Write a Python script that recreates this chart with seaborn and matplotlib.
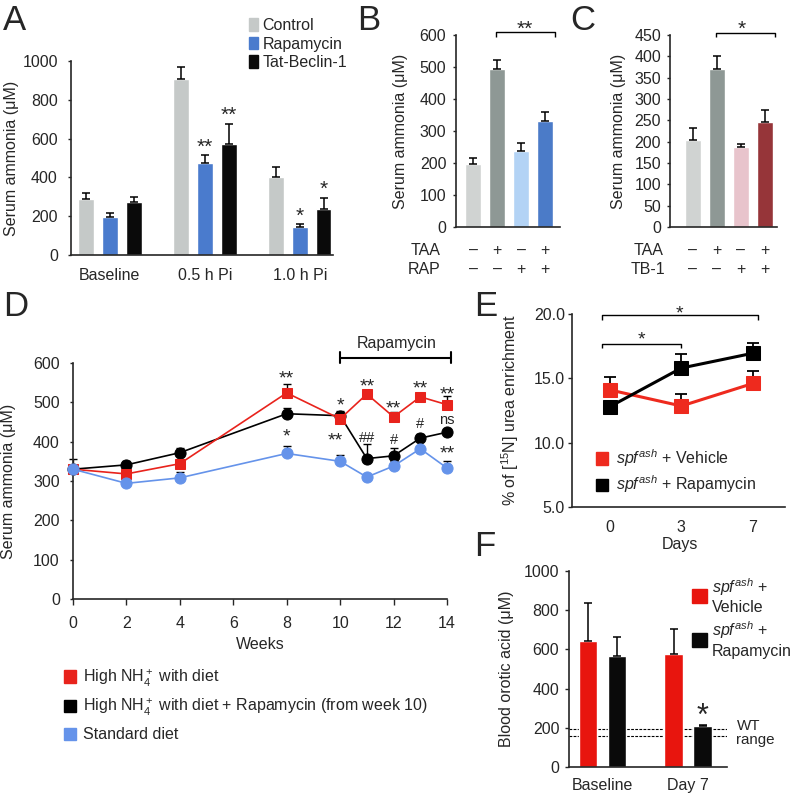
import numpy as np
import pandas as pd
import matplotlib
matplotlib.use('Agg')
import matplotlib.pyplot as plt
import matplotlib.transforms as mtransforms
from matplotlib.patches import Patch
import seaborn as sns

# ---------------- data ----------------
# Panel A
a_groups = ['Baseline', '0.5 h Pi', '1.0 h Pi']
a_treatments = ['Control', 'Rapamycin', 'Tat-Beclin-1']
a_control = [288, 905, 401]
a_control_sem = [32, 62, 52]
a_rapamycin = [196, 472, 144]
a_rapamycin_sem = [22, 41, 17]
a_tatbeclin = [271, 571, 238]
a_tatbeclin_sem = [27, 105, 55]

# Panel B
b_taa = ['–', '+', '–', '+']
b_rap = ['–', '–', '+', '+']
b_values = [198, 493, 237, 331]
b_sem = [19, 29, 26, 29]

# Panel C
c_taa = ['–', '+', '–', '+']
c_tb1 = ['–', '–', '+', '+']
c_values = [203, 370, 188, 245]
c_sem = [28, 31, 7, 29]

# Panel D
d_weeks = [0, 2, 4, 8, 10, 11, 12, 13, 14]
d_high = [330, 318, 344, 524, 458, 521, 463, 514, 494]
d_high_sem = [0, 6, 8, 22, 10, 7, 12, 11, 22]
d_high_rap = [330, 341, 372, 471, 466, 357, 364, 409, 424]
d_high_rap_sem = [0, 10, 13, 14, 12, 36, 21, 11, 6]
d_standard = [330, 294, 308, 370, 350, 310, 338, 382, 333]
d_standard_sem = [25, 0, 14, 18, 17, 0, 12, 8, 17]

# Panel E
e_days = ['0', '3', '7']
e_vehicle = [14.1, 12.85, 14.6]
e_vehicle_sem = [1.0, 0.95, 0.95]
e_rapamycin = [12.8, 15.8, 16.95]
e_rapamycin_sem = [0.3, 1.1, 0.8]

# Panel F
f_times = ['Baseline', 'Day 7']
f_vehicle = [645, 577]
f_vehicle_sem = [190, 125]
f_rapamycin = [564, 207]
f_rapamycin_sem = [97, 8]
f_wt_range = [157, 195]

# ---------------- style ----------------
sns.set_style('ticks')
plt.rcParams['font.family'] = ['Liberation Sans', 'DejaVu Sans']
plt.rcParams['mathtext.fontset'] = 'custom'
plt.rcParams['mathtext.rm'] = 'Liberation Sans'
plt.rcParams['mathtext.it'] = 'Liberation Sans:italic'
plt.rcParams['mathtext.bf'] = 'Liberation Sans:bold'
plt.rcParams['axes.linewidth'] = 1.2
FS = 11.5
plt.rcParams['font.size'] = FS

W = 793
fig = plt.figure(figsize=(W / 100, W / 100), dpi=100)


def axes_px(l, r, t, b):
    return fig.add_axes([l / W, 1 - b / W, (r - l) / W, (b - t) / W])


def mark(ax, x, y, s, size=14, frac=0.58, **kw):
    tr = mtransforms.offset_copy(ax.transData, fig=fig, y=-frac * size, units='points')
    ax.text(x, y, s, transform=tr, ha='center', va='baseline', fontsize=size,
            clip_on=False, **kw)


def bracket(ax, x0, x1, y, tick, lw=1.0):
    ax.plot([x0, x0, x1, x1], [y - tick, y, y, y - tick], color='k', lw=lw,
            clip_on=False, solid_capstyle='butt')


def panel_letter(x, y, s):
    fig.text(x / W, 1 - y / W, s, fontsize=25, ha='left', va='top')


def style_axes(ax):
    sns.despine(ax=ax)
    ax.tick_params(labelsize=FS, width=1.0)


eb_kw = dict(fmt='none', ecolor='k', elinewidth=1.1, capsize=3, capthick=1.1, zorder=1)

# ---------------- Panel A ----------------
axA = axes_px(71, 333, 61, 255)
a_cols = ['#c5c9c8', '#4a7bcd', '#0a0a0a']
dfA = pd.DataFrame({
    'group': a_groups * 3,
    'treatment': np.repeat(a_treatments, 3),
    'value': a_control + a_rapamycin + a_tatbeclin,
})
sns.barplot(data=dfA, x='group', y='value', hue='treatment', palette=a_cols,
            width=0.75, gap=0.33, saturation=1, errorbar=None, legend=False, ax=axA)
for j, (vals, sem) in enumerate([(a_control, a_control_sem),
                                 (a_rapamycin, a_rapamycin_sem),
                                 (a_tatbeclin, a_tatbeclin_sem)]):
    pos = np.arange(3) + (j - 1) * 0.25
    axA.errorbar(pos, vals, yerr=[np.zeros(3), sem], **eb_kw)
axA.set_xlim(-0.41, 2.35)
axA.set_ylim(0, 1000)
axA.set_yticks([0, 200, 400, 600, 800, 1000])
axA.set_xlabel('')
axA.set_ylabel('Serum ammonia (μM)', fontsize=FS)
axA.yaxis.set_label_coords(-0.20, 0.5)
style_axes(axA)
axA.tick_params(axis='x', length=0, pad=9)
axA.tick_params(axis='y', length=2.5, pad=7)
mark(axA, 1.0, 588, '**', 15)
mark(axA, 1.25, 752, '**', 15)
mark(axA, 2.0, 232, '*', 15)
mark(axA, 2.25, 371, '*', 15)
axA.legend([Patch(color=c) for c in a_cols], a_treatments, loc='upper left',
           bbox_to_anchor=(0.68, 1.22), frameon=False, handlelength=0.55,
           handleheight=0.85, handletextpad=0.3, labelspacing=0.2,
           borderpad=0, borderaxespad=0, fontsize=FS)
panel_letter(3, 4, 'A')

# ---------------- Panel B ----------------
axB = axes_px(456, 560, 35, 227)
b_cols = ['#d0d3d2', '#8e9895', '#b3d3f5', '#4b7bc8']
b_names = [f'{t}{r}' for t, r in zip(['a', 'b', 'c', 'd'], b_rap)]
sns.barplot(x=b_names, y=b_values, hue=b_names, palette=b_cols, legend=False,
            width=0.667, saturation=1, ax=axB)
axB.errorbar(np.arange(4), b_values, yerr=[np.zeros(4), b_sem], **eb_kw)
axB.set_xlim(-0.71, 3.62)
axB.set_ylim(0, 600)
axB.set_yticks(range(0, 601, 100))
axB.set_xticks([])
axB.set_ylabel('Serum ammonia (μM)', fontsize=FS)
axB.yaxis.set_label_coords(-0.46, 0.5)
style_axes(axB)
axB.tick_params(axis='y', length=2.5, pad=4.5)
trB = mtransforms.blended_transform_factory(axB.transData, axB.transAxes)
for i in range(4):
    axB.text(i, -0.12, b_taa[i], transform=trB, ha='center', va='center', fontsize=FS)
    axB.text(i, -0.219, b_rap[i], transform=trB, ha='center', va='center', fontsize=FS)
axB.text(-0.145, -0.12, 'TAA', transform=axB.transAxes, ha='right', va='center', fontsize=FS)
axB.text(-0.145, -0.219, 'RAP', transform=axB.transAxes, ha='right', va='center', fontsize=FS)
bracket(axB, 0.95, 3.42, 609, 14)
mark(axB, 2.17, 637, '**', 15)
panel_letter(357, 4, 'B')

# ---------------- Panel C ----------------
axC = axes_px(670, 777, 35, 227)
c_cols = ['#d0d3d2', '#8e9895', '#e8c4cc', '#963539']
c_names = [f'{t}{r}' for t, r in zip(['a', 'b', 'c', 'd'], c_tb1)]
sns.barplot(x=c_names, y=c_values, hue=c_names, palette=c_cols, legend=False,
            width=0.667, saturation=1, ax=axC)
axC.errorbar(np.arange(4), c_values, yerr=[np.zeros(4), c_sem], **eb_kw)
axC.set_xlim(-0.95, 3.5)
axC.set_ylim(0, 450)
axC.set_yticks(range(0, 451, 50))
axC.set_xticks([])
axC.set_ylabel('Serum ammonia (μM)', fontsize=FS)
axC.yaxis.set_label_coords(-0.41, 0.5)
style_axes(axC)
axC.tick_params(axis='y', length=2.5, pad=4)
trC = mtransforms.blended_transform_factory(axC.transData, axC.transAxes)
for i in range(4):
    axC.text(i, -0.12, c_taa[i], transform=trC, ha='center', va='center', fontsize=FS)
    axC.text(i, -0.219, c_tb1[i], transform=trC, ha='center', va='center', fontsize=FS)
axC.text(-0.065, -0.12, 'TAA', transform=axC.transAxes, ha='right', va='center', fontsize=FS)
axC.text(-0.047, -0.219, 'TB-1', transform=axC.transAxes, ha='right', va='center', fontsize=FS)
bracket(axC, 0.96, 3.43, 455, 9)
mark(axC, 2.04, 478, '*', 15)
panel_letter(570, 4, 'C')

# ---------------- Panel D ----------------
axD = axes_px(73, 447, 363, 599)
col_red = '#e8231c'
col_blue = '#6593ea'
for vals, sem, col, mk, ms in [(d_high_rap, d_high_rap_sem, 'k', 'o', 8),
                               (d_high, d_high_sem, col_red, 's', 6.5),
                               (d_standard, d_standard_sem, col_blue, 'o', 8)]:
    axD.errorbar(d_weeks, vals, yerr=[np.zeros(len(vals)), sem], fmt='none', ecolor='k',
                 elinewidth=1.0, capsize=3, capthick=1.0, zorder=2, clip_on=False)
    sns.lineplot(x=d_weeks, y=vals, color=col, marker=mk, markersize=ms,
                 markeredgecolor=col, linewidth=1.2, ax=axD, zorder=3)
for ln in axD.lines:
    ln.set_clip_on(False)
axD.set_xlim(0, 14)
axD.set_ylim(0, 600)
axD.set_xticks(range(0, 15, 2))
axD.set_yticks(range(0, 601, 100))
axD.set_xlabel('Weeks', fontsize=FS)
axD.xaxis.set_label_coords(0.5, -0.161)
axD.set_ylabel('Serum ammonia (μM)', fontsize=FS)
axD.yaxis.set_label_coords(-0.152, 0.5)
style_axes(axD)
axD.tick_params(axis='x', length=4, pad=8, direction='out')
axD.tick_params(axis='y', length=2.5, pad=7)
# Rapamycin bar
axD.plot([10, 14.15], [613, 613], color='k', lw=1.5, clip_on=False)
axD.plot([10, 10], [600, 628], color='k', lw=1.5, clip_on=False)
axD.plot([14.15, 14.15], [600, 628], color='k', lw=1.5, clip_on=False)
axD.text(12.1, 649, 'Rapamycin', ha='center', va='center', fontsize=FS)
for x, y, s in [(8, 577, '**'), (8, 429, '*'), (10, 508, '*'), (9.8, 420, '**'),
                (11, 556, '**'), (12, 501, '**'), (13, 552, '**'), (14, 537, '**'),
                (14, 387, '**')]:
    mark(axD, x, y, s, 14)
for x, y, s in [(11, 412, '##'), (12, 408, '#'), (13, 448, '#')]:
    mark(axD, x, y, s, 10.5, frac=0.36)
mark(axD, 14, 454, 'ns', 10.5, frac=0.26)
d_labels = ['High NH$_4^+$ with diet',
            'High NH$_4^+$ with diet + Rapamycin (from week 10)',
            'Standard diet']
axD.legend([Patch(color=c) for c in [col_red, 'k', col_blue]], d_labels,
           loc='upper left', bbox_to_anchor=(-0.025, -0.29), frameon=False,
           handlelength=0.75, handleheight=0.8, handletextpad=0.45,
           labelspacing=0.55, borderpad=0, borderaxespad=0, fontsize=FS)
panel_letter(3, 290, 'D')

# ---------------- Panel E ----------------
axE = axes_px(572, 785, 314, 507)
col_red_e = '#ee2a1e'
for vals, sem, col in [(e_vehicle, e_vehicle_sem, col_red_e),
                       (e_rapamycin, e_rapamycin_sem, 'k')]:
    axE.errorbar(np.arange(3), vals, yerr=[np.zeros(3), sem], fmt='none', ecolor='k',
                 elinewidth=1.3, capsize=4, capthick=1.3, zorder=2)
for vals, col in [(e_vehicle, col_red_e), (e_rapamycin, 'k')]:
    sns.lineplot(x=e_days, y=vals, color=col, marker='s', markersize=10,
                 markeredgecolor=col, linewidth=2.2, sort=False, ax=axE, zorder=3)
axE.set_xlim(-0.53, 2.45)
axE.set_ylim(5, 20)
axE.set_yticks([5, 10, 15, 20])
axE.set_yticklabels(['5.0', '10.0', '15.0', '20.0'])
axE.set_xlabel('Days', fontsize=FS)
axE.xaxis.set_label_coords(0.507, -0.155)
axE.set_ylabel('% of [$^{15}$N] urea enrichment', fontsize=FS)
axE.yaxis.set_label_coords(-0.24, 0.5)
style_axes(axE)
axE.tick_params(axis='x', length=0, pad=9)
axE.tick_params(axis='y', length=3, pad=2)
bracket(axE, -0.11, 2.07, 19.9, 0.35)
bracket(axE, -0.11, 1.0, 17.7, 0.35)
mark(axE, 0.98, 20.55, '*', 14)
mark(axE, 0.44, 18.52, '*', 14)
axE.legend([Patch(color=c) for c in [col_red_e, 'k']],
           ['$spf^{ash}$ + Vehicle', '$spf^{ash}$ + Rapamycin'],
           loc='lower left', bbox_to_anchor=(0.115, 0.06), frameon=False,
           handlelength=0.75, handleheight=0.85, handletextpad=0.5,
           labelspacing=0.3, borderpad=0, borderaxespad=0, fontsize=FS)
panel_letter(474, 290, 'E')

# ---------------- Panel F ----------------
axF = axes_px(569, 727, 571, 767)
col_red_f = '#e8150e'
dfF = pd.DataFrame({
    'time': f_times * 2,
    'group': ['Vehicle'] * 2 + ['Rapamycin'] * 2,
    'value': f_vehicle + f_rapamycin,
})
sns.barplot(data=dfF, x='time', y='value', hue='group', palette=[col_red_f, '#0a0a0a'],
            width=0.674, gap=0.35, saturation=1, errorbar=None, legend=False, ax=axF)
for j, (vals, sem) in enumerate([(f_vehicle, f_vehicle_sem), (f_rapamycin, f_rapamycin_sem)]):
    pos = np.arange(2) + (j - 0.5) * 0.337
    axF.errorbar(pos, vals, yerr=[np.zeros(2), sem], **eb_kw)
for y in f_wt_range:
    axF.axhline(y, color='k', lw=0.8, ls=(0, (2.5, 1.2)), zorder=0.5)
axF.set_xlim(-0.39, 1.45)
axF.set_ylim(0, 1000)
axF.set_yticks(range(0, 1001, 200))
axF.set_xlabel('')
axF.set_ylabel('Blood orotic acid (μM)', fontsize=FS)
axF.yaxis.set_label_coords(-0.35, 0.5)
style_axes(axF)
axF.tick_params(axis='x', length=0, pad=8)
axF.tick_params(axis='y', length=3, pad=4)
mark(axF, 1 + 0.5 * 0.337, 306, '*', 22)
trF = mtransforms.blended_transform_factory(axF.transAxes, axF.transData)
axF.text(1.06, 176, 'WT\nrange', transform=trF, ha='left', va='center',
         fontsize=FS * 0.95, linespacing=1.0)
axF.legend([Patch(color=c) for c in [col_red_f, '#0a0a0a']],
           ['$spf^{ash}$ +\nVehicle', '$spf^{ash}$ +\nRapamycin'],
           loc='upper left', bbox_to_anchor=(0.78, 0.975), frameon=False,
           handlelength=0.9, handleheight=1.0, handletextpad=0.35,
           labelspacing=0.3, borderpad=0, borderaxespad=0, fontsize=FS)
panel_letter(474, 530, 'F')

fig.savefig('out.png', dpi=100)
